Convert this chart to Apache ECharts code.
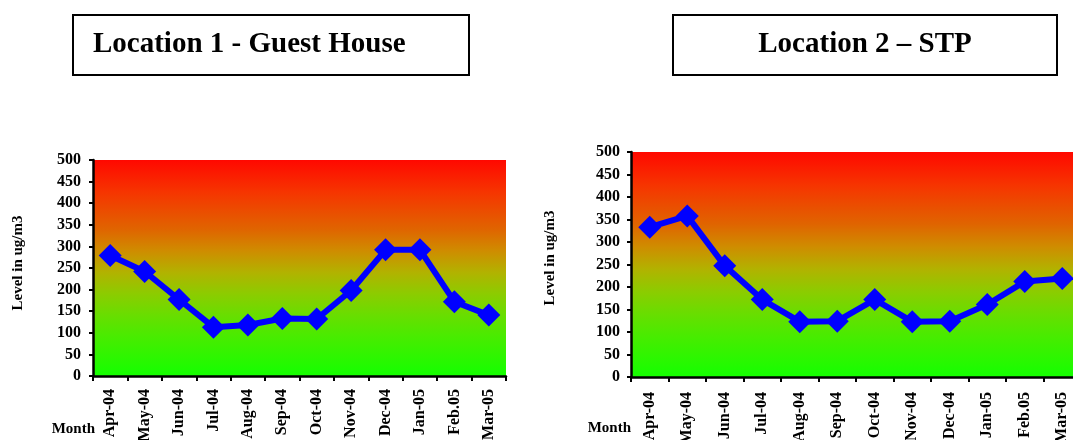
<!DOCTYPE html>
<html>
<head>
<meta charset="utf-8">
<script src="https://cdn.jsdelivr.net/npm/echarts@6/dist/echarts.min.js"></script>
<style>
html,body{margin:0;padding:0;background:#fff;}
#c{width:1073px;height:440px;}
</style>
</head>
<body>
<div id="c"></div>
<script>
var months = ['Apr-04','May-04','Jun-04','Jul-04','Aug-04','Sep-04','Oct-04','Nov-04','Dec-04','Jan-05','Feb.05','Mar-05'];
var location1 = [279, 242, 177, 113, 118, 133, 132, 198, 292, 292, 172, 141];
var location2 = [333, 358, 247, 172, 123, 124, 172, 123, 124, 161, 212, 219];
var title1 = 'Location 1 - Guest House';
var title2 = 'Location 2 \u2013 STP';
var yTitle = 'Level in ug/m3';
var xTitle = 'Month';

var FONT = '"Liberation Serif","Times New Roman",serif';
var bg = {
  type: 'linear', x: 0, y: 0, x2: 0, y2: 1,
  colorStops: [
    {offset: 0, color: '#FF0800'},
    {offset: 0.15, color: '#F63500'},
    {offset: 0.32, color: '#E06400'},
    {offset: 0.42, color: '#CF8C00'},
    {offset: 0.52, color: '#B2B200'},
    {offset: 0.62, color: '#8CCC00'},
    {offset: 0.72, color: '#68DE00'},
    {offset: 0.82, color: '#48EC00'},
    {offset: 1, color: '#14FF00'}
  ]
};
function xAx(idx, margin) {
  return {
    type: 'category', gridIndex: idx, data: months, boundaryGap: true,
    axisLine: {lineStyle: {color: '#000', width: 2.5}},
    axisTick: {show: true, alignWithLabel: false, length: 5, lineStyle: {color: '#000', width: 2}},
    axisLabel: {rotate: 90, margin: margin, interval: 0, color: '#000', fontFamily: FONT, fontWeight: 'bold', fontSize: 16},
    splitLine: {show: false}
  };
}
function yAx(idx, margin) {
  return {
    type: 'value', gridIndex: idx, min: 0, max: 500, interval: 50,
    axisLine: {show: true, lineStyle: {color: '#000', width: 2.5}},
    axisTick: {show: true, length: 4, lineStyle: {color: '#000', width: 2}},
    axisLabel: {margin: margin, color: '#000', fontFamily: FONT, fontWeight: 'bold', fontSize: 16},
    splitLine: {show: false}
  };
}
function ser(idx, data) {
  return {
    type: 'line', xAxisIndex: idx, yAxisIndex: idx, data: data,
    symbol: 'diamond', symbolSize: 23,
    lineStyle: {color: '#0000FF', width: 6},
    itemStyle: {color: '#0000FF'},
    animation: false
  };
}
function boxText(x, y, w, h, txt, align, tx) {
  return [
    {type: 'rect', shape: {x: x, y: y, width: w, height: h}, style: {fill: '#fff', stroke: '#000', lineWidth: 2}},
    {type: 'text', x: tx, y: y + h / 2, style: {text: txt, fill: '#000', font: 'bold 29px ' + FONT, textAlign: align, textVerticalAlign: 'middle'}}
  ];
}
var chart = echarts.init(document.getElementById('c'));
chart.setOption({
  animation: false,
  grid: [
    {left: 93, top: 160, width: 413, bottom: 64, show: true, backgroundColor: bg, borderWidth: 0, outerBoundsMode: 'none', containLabel: false},
    {left: 631, top: 152, width: 450, bottom: 63, show: true, backgroundColor: bg, borderWidth: 0, outerBoundsMode: 'none', containLabel: false}
  ],
  xAxis: [xAx(0, 13), xAx(1, 15)],
  yAxis: [yAx(0, 12), yAx(1, 11)],
  series: [ser(0, location1), ser(1, location2)],
  graphic: [].concat(
    boxText(73, 15, 396, 60, title1, 'left', 93),
    boxText(673, 15, 384, 60, title2, 'center', 865),
    [
      {type: 'text', x: 18, y: 263, rotation: Math.PI / 2, style: {text: yTitle, fill: '#000', font: 'bold 15px ' + FONT, textAlign: 'center', textVerticalAlign: 'middle'}},
      {type: 'text', x: 550, y: 258, rotation: Math.PI / 2, style: {text: yTitle, fill: '#000', font: 'bold 15px ' + FONT, textAlign: 'center', textVerticalAlign: 'middle'}},
      {type: 'text', x: 95, y: 429, style: {text: xTitle, fill: '#000', font: 'bold 15px ' + FONT, textAlign: 'right', textVerticalAlign: 'middle'}},
      {type: 'text', x: 631, y: 428, style: {text: xTitle, fill: '#000', font: 'bold 15px ' + FONT, textAlign: 'right', textVerticalAlign: 'middle'}}
    ]
  )
});
</script>
</body>
</html>
